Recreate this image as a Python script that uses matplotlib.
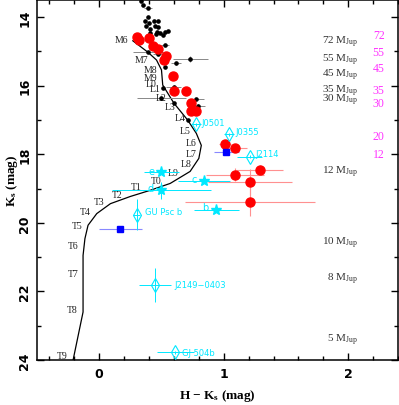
"""Colour-magnitude diagram: Ks vs H-Ks with field track and young companions."""

import matplotlib

matplotlib.use("Agg")
import matplotlib.pyplot as plt
from matplotlib.ticker import MultipleLocator

# ---------------------------------------------------------------------------
# Data
# ---------------------------------------------------------------------------

# field sequence (black line)
track_hk = [0.27, 0.39, 0.46, 0.50, 0.51, 0.60, 0.71, 0.78, 0.82, 0.80, 0.73,
            0.57, 0.41, 0.25, 0.09, -0.02, -0.09, -0.115, -0.13, -0.13, -0.21]
track_k = [14.69, 15.02, 15.25, 15.54, 15.98, 16.51, 17.00, 17.39, 17.74, 18.12,
           18.50, 18.85, 19.05, 19.23, 19.44, 19.73, 20.07, 20.46, 20.95, 22.60,
           24.00]

spt_names = ["M6", "M7", "M8", "M9", "L0", "L1", "L2", "L3", "L4", "L5", "L6",
             "L7", "L8", "L9", "T0", "T1", "T2", "T3", "T4", "T5", "T6", "T7",
             "T8", "T9"]
spt_hk = [0.175, 0.34, 0.41, 0.41, 0.42, 0.45, 0.50, 0.57, 0.65, 0.69, 0.74,
          0.74, 0.70, 0.59, 0.46, 0.30, 0.14, 0.00, -0.115, -0.18, -0.21, -0.21,
          -0.22, -0.30]
spt_k = [14.64, 15.23, 15.52, 15.75, 15.93, 16.08, 16.34, 16.60, 16.92, 17.30,
         17.65, 17.98, 18.27, 18.53, 18.77, 18.94, 19.18, 19.38, 19.67, 20.08,
         20.67, 21.49, 22.54, 23.88]

# field dwarfs (small black dots)
field_hk = [0.333, 0.354, 0.39, 0.394, 0.368, 0.40, 0.44, 0.475, 0.373, 0.41,
            0.448, 0.475, 0.46, 0.49, 0.53, 0.55, 0.515, 0.41, 0.456, 0.53,
            0.39, 0.47, 0.73, 0.62, 0.53, 0.51, 0.60, 0.50, 0.60, 0.78, 0.79,
            0.71]
field_k = [13.54, 13.66, 13.74, 14.00, 14.11, 14.18, 14.11, 14.11, 14.27, 14.34,
           14.27, 14.30, 14.42, 14.45, 14.42, 14.39, 14.52, 14.45, 14.48, 14.81,
           15.02, 15.08, 15.22, 15.35, 15.44, 16.06, 16.03, 16.37, 16.49, 16.39,
           16.58, 17.00]
field_xerr = [0, 0, 0.03, 0, 0, 0, 0, 0, 0, 0,
              0, 0, 0, 0, 0, 0, 0, 0, 0, 0.03,
              0.12, 0.04, 0.14, 0.04, 0, 0, 0.06, 0.20, 0, 0.06,
              0.06, 0]
field_yerr = [0, 0, 0, 0, 0, 0, 0, 0, 0, 0,
              0, 0, 0, 0, 0, 0, 0, 0, 0, 0.04,
              0.03, 0, 0.10, 0.04, 0, 0, 0.04, 0.06, 0, 0.04,
              0.04, 0]

# young dwarfs (red circles)
red_hk = [0.30, 0.32, 0.40, 0.43, 0.475, 0.54, 0.52, 0.59, 0.60, 0.70, 0.74,
          0.74, 0.78, 1.01, 1.09, 1.29, 1.09, 1.21, 1.21]
red_k = [14.59, 14.66, 14.61, 14.84, 14.93, 15.12, 15.25, 15.73, 16.15, 16.14,
         16.49, 16.74, 16.74, 17.71, 17.83, 18.46, 18.59, 18.82, 19.39]
red_xerr = [0, 0, 0, 0, 0, 0, 0, 0, 0, 0, 0, 0, 0, 0.05, 0.10, 0.19, 0.23,
            0.34, 0.52]
red_yerr = [0, 0, 0, 0, 0, 0, 0, 0, 0, 0, 0, 0, 0, 0.04, 0.05, 0.14, 0.20,
            0.38, 0.40]

# blue squares
blue_hk = [1.02, 0.17]
blue_k = [17.93, 20.19]
blue_xerr = [0.10, 0.17]
blue_yerr = [0.02, 0.05]

# companions (cyan stars)
star_names = ["e", "d", "c", "b"]
star_hk = [0.50, 0.50, 0.84, 0.94]
star_k = [18.53, 19.05, 18.79, 19.63]
star_xerr = [0.14, 0.40, 0.21, 0.18]
star_yerr = [0.05, 0.25, 0.05, 0.05]

# other planetary-mass objects (cyan diamonds)
dia_names = ["J0501", "J0355", "J2114", "GU Psc b", "J2149\u22120403", "GJ 504b"]
dia_hk = [0.78, 1.045, 1.21, 0.30, 0.45, 0.61]
dia_k = [17.13, 17.42, 18.07, 19.76, 21.81, 23.78]
dia_xerr = [0.04, 0.04, 0.10, 0.03, 0.13, 0.15]
dia_yerr = [0.05, 0.05, 0.05, 0.45, 0.49, 0.05]

# mass scales
mass_old = ["72", "55", "45", "35", "30", "12", "10", "8", "5"]
mass_old_k = [14.71, 15.23, 15.67, 16.14, 16.40, 18.49, 20.56, 21.63, 23.39]
mass_young = ["72", "55", "45", "35", "30", "20", "12"]
mass_young_k = [14.52, 15.02, 15.49, 16.12, 16.51, 17.47, 17.98]

# ---------------------------------------------------------------------------
# Plot
# ---------------------------------------------------------------------------

plt.rcParams["mathtext.default"] = "regular"

CYAN = "#00e8ff"
MAGENTA = "#ff33ff"
SERIF = "Liberation Serif"

fig = plt.figure(figsize=(3.99, 4.06), dpi=100)
ax = fig.add_axes([37 / 399, 1 - 361 / 406, 361 / 399, 360 / 406])

# track
ax.plot(track_hk, track_k, color="black", lw=0.9, zorder=2)
for name, x, y in zip(spt_names, spt_hk, spt_k):
    ax.text(x, y, name, fontsize=7, family=SERIF, color="#222222",
            ha="center", va="center", zorder=3)

# field dwarfs
ax.errorbar(field_hk, field_k, xerr=field_xerr, yerr=field_yerr, fmt="none",
            ecolor="#888888", elinewidth=0.7, zorder=2)
ax.plot(field_hk, field_k, "o", color="black", ms=2.3, zorder=4)

# young dwarfs
ax.errorbar(red_hk, red_k, xerr=red_xerr, yerr=red_yerr, fmt="none",
            ecolor="#ff9090", elinewidth=0.8, zorder=3)
ax.plot(red_hk, red_k, "o", color="red", ms=6.5, zorder=5)

ax.errorbar(blue_hk, blue_k, xerr=blue_xerr, yerr=blue_yerr, fmt="none",
            ecolor="#8888ff", elinewidth=0.8, zorder=3)
ax.plot(blue_hk, blue_k, "s", color="blue", ms=3.8, zorder=5)

# companions
ax.errorbar(star_hk, star_k, xerr=star_xerr, yerr=star_yerr, fmt="none",
            ecolor=CYAN, elinewidth=0.7, zorder=3)
ax.plot(star_hk, star_k, "*", color=CYAN, ms=8, zorder=6)
star_off = [(-7, 1), (-8, 1.5), (-7, 1.5), (-8, 2)]
for name, x, y, off in zip(star_names, star_hk, star_k, star_off):
    ax.annotate(name, (x, y), xytext=off, textcoords="offset points",
                fontsize=7, color=CYAN, ha="center", va="center")

ax.errorbar(dia_hk, dia_k, xerr=dia_xerr, yerr=dia_yerr, fmt="none",
            ecolor=CYAN, elinewidth=0.7, zorder=3)
ax.plot(dia_hk, dia_k, "d", mfc="none", mec=CYAN, mew=0.8, ms=7.5, zorder=6)
dia_off = [(3.5, 1.5), (4, 2), (4, 2), (6, 2), (14, 0), (5, 0)]
for name, x, y, off in zip(dia_names, dia_hk, dia_k, dia_off):
    ax.annotate(name, (x, y), xytext=off, textcoords="offset points",
                fontsize=6, color=CYAN, ha="left", va="center")

# mass labels
for m, y in zip(mass_old, mass_old_k):
    ax.text(2.08, y, m + " M$_{Jup}$", fontsize=8, family=SERIF,
            color="#333333", ha="right", va="center")
for m, y in zip(mass_young, mass_young_k):
    ax.text(2.245, y, m, fontsize=8.5, family=SERIF, color=MAGENTA,
            ha="center", va="center")

# axes
ax.set_xlim(-0.5, 2.4)
ax.set_ylim(24, 13.5)
ax.xaxis.set_major_locator(MultipleLocator(1))
ax.xaxis.set_minor_locator(MultipleLocator(0.2))
ax.yaxis.set_major_locator(MultipleLocator(2))
ax.yaxis.set_minor_locator(MultipleLocator(1))
ax.tick_params(which="both", direction="in", top=True, right=True, width=1)
ax.tick_params(which="major", length=5)
ax.tick_params(which="minor", length=3)
ax.tick_params(axis="x", pad=5)
ax.tick_params(axis="y", pad=4)
for lab in ax.get_xticklabels() + ax.get_yticklabels():
    lab.set_fontweight("bold")
    lab.set_fontsize(9)
for lab in ax.get_yticklabels():
    lab.set_rotation(90)
    lab.set_va("center")
for sp in ax.spines.values():
    sp.set_linewidth(1.1)

ax.set_xlabel("H \u2212 K$_s$ (mag)", fontsize=9.5, fontweight="bold",
              family=SERIF, labelpad=5)
ax.set_ylabel("K$_s$ (mag)", fontsize=9.5, fontweight="bold", family=SERIF,
              labelpad=-1)

fig.savefig("out.png", dpi=100)
